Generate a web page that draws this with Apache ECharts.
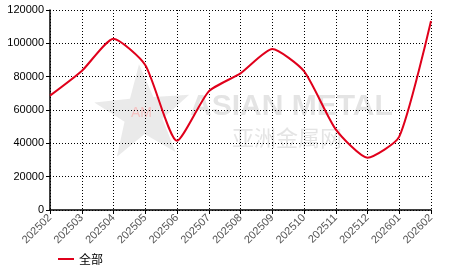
<!DOCTYPE html>
<html>
<head>
<meta charset="utf-8">
<script src="https://cdn.jsdelivr.net/npm/echarts@6/dist/echarts.min.js"></script>
<style>html,body{margin:0;padding:0;background:#fff}#c{width:466px;height:272px}</style>
</head>
<body>
<div id="c"></div>
<script>
const categories = ['202502','202503','202504','202505','202506','202507','202508','202509','202510','202511','202512','202601','202602'];
const values = [68600, 83400, 102800, 87000, 41500, 71200, 82000, 96600, 83300, 48400, 31400, 44000, 113400];
const yTicks = {min: 0, max: 120000, interval: 20000};
const seriesName = '全部';

function starPoints(cx, cy, R, r, rot) {
  const pts = [];
  for (let i = 0; i < 10; i++) {
    const a = rot + i * Math.PI / 5 - Math.PI / 2;
    const rad = i % 2 === 0 ? R : r;
    pts.push([cx + rad * Math.cos(a), cy + rad * Math.sin(a)]);
  }
  return pts;
}

const chart = echarts.init(document.getElementById('c'), null, {renderer: 'canvas'});
chart.setOption({
  animation: false,
  backgroundColor: '#fff',
  graphic: [
    {type: 'polygon', z: -10, shape: {points: starPoints(143, 114, 50, 20, -0.08)}, style: {fill: 'rgba(220,220,220,0.6)'}},
    {type: 'text', z: -9, left: 131, top: 106, style: {text: 'AM', fill: 'rgba(255,160,160,0.55)', font: '14px Arial'}},
    {type: 'text', z: -9, left: 190, top: 92, style: {text: 'ASIAN METAL', fill: 'rgba(205,205,205,0.55)', font: 'bold 30px Arial'}},
    {type: 'text', z: -9, left: 232, top: 127, style: {text: '亚洲金属网', fill: 'rgba(205,205,205,0.55)', font: '22px "Noto Sans CJK SC"'}}
  ],
  grid: {left: 50, right: 35, top: 10, bottom: 62, containLabel: false},
  legend: {
    data: [seriesName], left: 53, top: 248, itemWidth: 16, itemHeight: 2, itemGap: 6,
    icon: 'rect',
    textStyle: {fontSize: 12, color: '#000', fontFamily: 'Noto Sans CJK SC'}
  },
  xAxis: {
    type: 'category', data: categories, boundaryGap: false,
    axisLine: {lineStyle: {color: '#000', width: 1.5}},
    axisTick: {show: true, length: 4, lineStyle: {color: '#000'}},
    axisLabel: {rotate: 45, fontSize: 11, color: '#555', fontFamily: 'Arial', margin: 6, interval: 0},
    splitLine: {show: true, lineStyle: {color: '#000', type: [1, 2], width: 1}}
  },
  yAxis: {
    type: 'value', min: yTicks.min, max: yTicks.max, interval: yTicks.interval,
    axisLine: {show: true, lineStyle: {color: '#000', width: 1.5}},
    axisTick: {show: true, length: 4, lineStyle: {color: '#000'}},
    axisLabel: {fontSize: 11, color: '#000', fontFamily: 'Arial', margin: 6, formatter: v => String(v)},
    splitLine: {show: true, lineStyle: {color: '#000', type: [1, 2], width: 1}}
  },
  series: [{
    name: seriesName, type: 'line', data: values, smooth: 0.2, symbol: 'none',
    lineStyle: {color: '#e0001b', width: 2}, itemStyle: {color: '#e0001b'}
  }]
});
</script>
</body>
</html>
